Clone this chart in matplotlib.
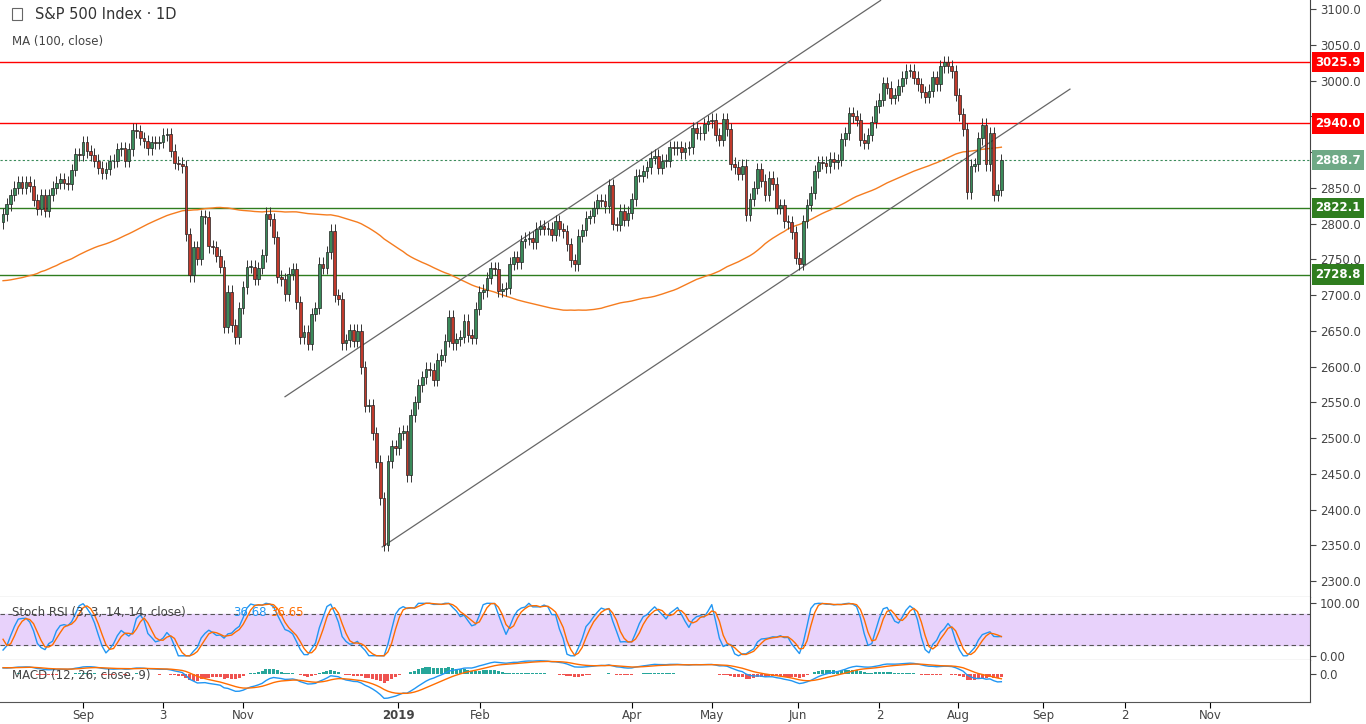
import numpy as np
import pandas as pd
import matplotlib.pyplot as plt
from matplotlib.patches import Rectangle

# closes before Aug 2018 (only used to warm up the moving average)
pre_closes = [2783, 2765, 2749, 2747, 2752, 2712, 2717, 2711, 2643, 2588, 2658, 2612, 2605, 2641,
              2582, 2614, 2644, 2662, 2604, 2613, 2656, 2642, 2663, 2656, 2677, 2706, 2708, 2693,
              2670, 2670, 2639, 2639, 2666, 2669, 2648,
              2654, 2635, 2630, 2663, 2672, 2671, 2697, 2697, 2723, 2728, 2730, 2711, 2722, 2720,
              2712, 2733, 2725, 2733, 2727, 2721, 2689, 2724,
              2705, 2734, 2746, 2748, 2772, 2770, 2779, 2782, 2786, 2775, 2779, 2762, 2773, 2767,
              2749, 2755, 2754, 2718, 2723, 2699, 2716,
              2718, 2726, 2713, 2736, 2760, 2784, 2794, 2773, 2798, 2801, 2798, 2809, 2815, 2805,
              2804, 2820, 2846, 2838, 2837, 2818, 2802]

closes = [
    # Aug 2018
    2813, 2827, 2840, 2850, 2858, 2850, 2858, 2853, 2833, 2821, 2840, 2818, 2840, 2850, 2857,
    2862, 2857, 2856, 2875, 2897, 2896, 2914, 2901,
    # Sep
    2896, 2888, 2878, 2871, 2877, 2887, 2888, 2904, 2905, 2888, 2904, 2931, 2929, 2919, 2915,
    2905, 2914, 2913, 2914,
    # Oct
    2924, 2925, 2902, 2885, 2884, 2880, 2785, 2728, 2767, 2751, 2810, 2809, 2768, 2767, 2755,
    2740, 2656, 2705, 2658, 2641, 2682, 2711, 2740,
    # Nov
    2740, 2723, 2738, 2756, 2814, 2806, 2781, 2726, 2722, 2701, 2730, 2736, 2690, 2641, 2649,
    2632, 2673, 2682, 2744, 2738, 2760,
    # Dec
    2790, 2700, 2695, 2633, 2637, 2651, 2636, 2650, 2599, 2545, 2546, 2507, 2467, 2416, 2351,
    2468, 2489, 2486, 2507,
    # Jan 2019
    2510, 2448, 2532, 2550, 2574, 2585, 2597, 2596, 2582, 2610, 2616, 2636, 2670, 2633, 2638,
    2642, 2664, 2644, 2640, 2681, 2704,
    # Feb
    2707, 2724, 2738, 2737, 2706, 2708, 2710, 2744, 2753, 2746, 2775, 2779, 2780, 2774, 2793,
    2796, 2793, 2793, 2784,
    # Mar
    2803, 2792, 2789, 2771, 2749, 2743, 2783, 2791, 2808, 2810, 2822, 2833, 2832, 2824, 2854,
    2800, 2798, 2818, 2805, 2815, 2834,
    # Apr
    2867, 2867, 2873, 2879, 2892, 2895, 2878, 2888, 2888, 2907, 2905, 2907, 2900, 2905, 2907,
    2933, 2927, 2926, 2939, 2943, 2945,
    # May
    2924, 2917, 2946, 2932, 2884, 2879, 2870, 2881, 2812, 2834, 2850, 2876, 2860, 2840, 2864,
    2856, 2822, 2826, 2803, 2802, 2788, 2752,
    # Jun
    2744, 2803, 2826, 2843, 2873, 2886, 2885, 2880, 2891, 2886, 2889, 2918, 2926, 2954, 2950,
    2945, 2917, 2913, 2924, 2942,
    # Jul
    2964, 2973, 2996, 2990, 2976, 2980, 2993, 3004, 3014, 3014, 3004, 2995, 2984, 2977, 2986,
    3005, 2995, 3020, 3026, 3020, 3013, 2980,
    # Aug
    2953, 2932, 2844, 2881, 2883, 2919, 2938, 2883, 2926, 2840, 2847, 2889,
]

tick_pos = [21, 42, 63, 103.7, 125.2, 165, 186, 208.7, 230, 250.7, 273, 294.5, 316.8]
tick_labels = ["Sep", "3", "Nov", "2019", "Feb", "Apr", "May", "Jun", "2", "Aug", "Sep", "2", "Nov"]

levels = [(3025.9, "#ff0000"), (2940.0, "#ff0000"), (2822.1, "#2f7d1f"), (2728.8, "#2f7d1f")]
last_price = 2888.7

# channel lines, (index, price) endpoints
upper_chan = [(74, 2558), (230.3, 3112)]
lower_chan = [(99.5, 2348), (280, 2988)]

all_c = pd.Series(pre_closes + closes, dtype=float)
n_pre = len(pre_closes)
ma100 = all_c.rolling(100, min_periods=1).mean().iloc[n_pre:].values

c = np.array(closes, float)
o = np.r_[pre_closes[-1], c[:-1]]
hi = np.maximum(o, c) + 9
lo = np.minimum(o, c) - 9
idx = np.arange(len(c))

# Stoch RSI (3, 3, 14, 14)
s = all_c
d = s.diff()
up = d.clip(lower=0).ewm(alpha=1/14, adjust=False).mean()
dn = (-d.clip(upper=0)).ewm(alpha=1/14, adjust=False).mean()
rsi = 100 - 100 / (1 + up / dn)
st = (rsi - rsi.rolling(14).min()) / (rsi.rolling(14).max() - rsi.rolling(14).min()) * 100
k = st.rolling(3).mean()
dd = k.rolling(3).mean()
k = k.iloc[n_pre:].values
dd = dd.iloc[n_pre:].values

# MACD (12, 26, 9)
macd = s.ewm(span=12, adjust=False).mean() - s.ewm(span=26, adjust=False).mean()
sig = macd.ewm(span=9, adjust=False).mean()
hist = (macd - sig).iloc[n_pre:].values
macd = macd.iloc[n_pre:].values
sig = sig.iloc[n_pre:].values

W, H = 1366, 724
fig = plt.figure(figsize=(W / 100, H / 100), dpi=100)
plot_w = 1310 / W
xl = (-0.8, 343)

def px_axes(top, bottom):
    return fig.add_axes([0, 1 - bottom / H, plot_w, (bottom - top) / H])

ax = px_axes(0, 597)
ax2 = px_axes(597, 660)
ax3 = px_axes(660, 702)

for a in (ax, ax2, ax3):
    a.set_xlim(*xl)
    a.yaxis.tick_right()
    a.tick_params(axis="y", labelsize=8.5, colors="#444444", length=4, pad=3)
    a.tick_params(axis="x", length=0)
    for sp in ("top", "left"):
        a.spines[sp].set_visible(False)
    a.spines["right"].set_color("#444444")
    a.spines["bottom"].set_color("#555555")
    a.set_xticks([])

# main pane
ax.set_ylim(2300 - 22, 3100 + 12.6)
yt = np.arange(2300, 3101, 50)
ax.set_yticks(yt)
ax.set_yticklabels([f"{v:.1f}" if v not in (2950, 2900) else "" for v in yt])
green, red = "#3a8a5a", "#c0392b"
for i in idx:
    col = green if c[i] >= o[i] else red
    ax.vlines(i, lo[i], hi[i], color="#333333", lw=0.7, zorder=3)
    ax.add_patch(Rectangle((i - 0.36, min(o[i], c[i])), 0.72, max(abs(c[i] - o[i]), 0.8),
                           facecolor=col, edgecolor="#222222", lw=0.5, zorder=4))
ax.plot(idx, ma100, color="#f57c1f", lw=1, zorder=2)
for (x0, y0), (x1, y1) in (upper_chan, lower_chan):
    ax.plot([x0, x1], [y0, y1], color="#666666", lw=0.9, zorder=2)
for val, col in levels:
    ax.axhline(val, color=col, lw=1, zorder=1)
    ax.text(1.004, val, f"{val:.1f}", transform=ax.get_yaxis_transform(), color="white",
            fontsize=8.5, fontweight="bold", va="center", ha="left",
            bbox=dict(boxstyle="square,pad=0.3", fc=col, ec="none"), zorder=6)
ax.axhline(last_price, color="#3a8a5a", lw=0.8, ls=(0, (2, 2)))
ax.text(1.004, last_price, f"{last_price:.1f}", transform=ax.get_yaxis_transform(), color="white",
        fontsize=8.5, fontweight="bold", va="center", ha="left",
        bbox=dict(boxstyle="square,pad=0.3", fc="#6fa986", ec="none"), zorder=6)
ax.text(0.027, 0.968, "S&P 500 Index · 1D", transform=ax.transAxes, fontsize=10.5, color="#333333")
ax.text(0.009, 0.925, "MA (100, close)", transform=ax.transAxes, fontsize=8.5, color="#444444")
ax.add_patch(Rectangle((0.009, 0.966), 0.008, 0.02, transform=ax.transAxes, fill=False,
                       ec="#666666", lw=0.8))

# stoch rsi pane
ax2.set_ylim(-8, 112)
ax2.set_yticks([0, 100])
ax2.set_yticklabels(["0.00", "100.00"])
ax2.axhspan(20, 80, color="#e8d2fb", zorder=0)
for lvl in (20, 80):
    ax2.axhline(lvl, color="#555555", lw=0.8, ls=(0, (4, 3)))
ax2.plot(idx, k, color="#2196f3", lw=1)
ax2.plot(idx, dd, color="#ff6d00", lw=1)
ax2.text(0.009, 0.7, "Stoch RSI (3, 3, 14, 14, close)", transform=ax2.transAxes, fontsize=8.5,
         color="#444444")
ax2.text(0.178, 0.7, f"{k[-1]:.2f}", transform=ax2.transAxes, fontsize=8.5, color="#2196f3")
ax2.text(0.206, 0.7, f"{dd[-1]:.2f}", transform=ax2.transAxes, fontsize=8.5, color="#ff6d00")

# macd pane
ax3.bar(idx, hist, width=0.8, color=np.where(hist >= 0, "#26a69a", "#ef5350"), zorder=1)
ax3.plot(idx, macd, color="#2196f3", lw=1, zorder=2)
ax3.plot(idx, sig, color="#ff6d00", lw=1, zorder=2)
lim = np.nanmax(np.abs(np.r_[macd, sig])) * 1.15
ax3.set_ylim(-lim, lim * 0.5)
ax3.set_yticks([0])
ax3.set_yticklabels(["0.0"])
ax3.text(0.009, 0.55, "MACD (12, 26, close, 9)", transform=ax3.transAxes, fontsize=8.5,
         color="#444444")
ax3.set_xticks(tick_pos)
ax3.set_xticklabels(tick_labels, fontsize=8.5, color="#444444")
for t in ax3.get_xticklabels():
    if t.get_text() == "2019":
        t.set_fontweight("bold")
ax3.tick_params(axis="x", length=4, pad=1)

fig.savefig("out.png", dpi=100)
